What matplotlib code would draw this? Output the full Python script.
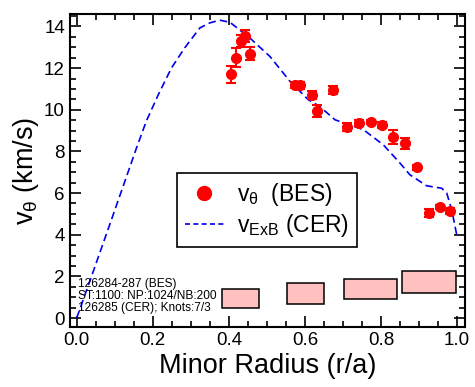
import matplotlib
matplotlib.use('Agg')
import matplotlib.pyplot as plt
from matplotlib.lines import Line2D
from matplotlib.ticker import MultipleLocator
import numpy as np

plt.rcParams['font.family'] = ['Liberation Sans', 'DejaVu Sans']
plt.rcParams['mathtext.default'] = 'regular'

# BES 測量點 (r/a, v_theta, 誤差)
bes_r = [0.407, 0.418, 0.433, 0.442, 0.457, 0.574, 0.587, 0.618, 0.632, 0.673,
         0.711, 0.743, 0.773, 0.803, 0.832, 0.863, 0.894, 0.925, 0.954, 0.982]
bes_v = [11.7, 12.5, 13.3, 13.55, 12.7, 11.2, 11.17, 10.72, 9.95, 10.95,
         9.17, 9.35, 9.42, 9.25, 8.7, 8.38, 7.25, 5.05, 5.35, 5.15]
bes_err = [0.42, 0.45, 0.3, 0.3, 0.3, 0.15, 0.15, 0.2, 0.3, 0.2,
           0.2, 0.15, 0.1, 0.15, 0.35, 0.25, 0.12, 0.2, 0.1, 0.15]

# CER 的 ExB 速度曲線
cer_r = [0.0, 0.039, 0.091, 0.135, 0.157, 0.183, 0.214, 0.249, 0.284, 0.324,
         0.35, 0.376, 0.403, 0.455, 0.508, 0.561, 0.609, 0.639, 0.679, 0.754,
         0.806, 0.85, 0.876, 0.92, 0.96, 0.973, 0.986, 0.995, 1.0]
cer_v = [0.0, 2.0, 4.7, 7.0, 8.15, 9.45, 10.7, 12.0, 12.97, 13.93,
         14.17, 14.3, 14.2, 13.45, 12.56, 11.36, 10.48, 10.16, 9.52, 9.04,
         8.32, 7.44, 6.88, 6.35, 6.23, 6.0, 5.19, 4.39, 3.9]

# 誤差方塊
box_left = [0.383, 0.553, 0.703, 0.854]
box_right = [0.479, 0.65, 0.841, 0.997]
box_low = [0.46, 0.66, 0.90, 1.22]
box_high = [1.38, 1.70, 1.86, 2.26]

notes = ['126284-287 (BES)', 'ST:1100: NP:1024/NB:200', '126285 (CER); Knots:7/3']

fig = plt.figure(figsize=(4.75, 3.87), dpi=100)
ax = fig.add_axes([0.147, 0.155, 0.832, 0.809])

ax.plot(cer_r, cer_v, color='#0000ee', linestyle=(0, (4.5, 2.5)), linewidth=1.2)

ax.errorbar(bes_r, bes_v, yerr=bes_err, fmt='o', color='#ff0000', ms=7,
            elinewidth=1.5, capsize=3.5, capthick=1.5, zorder=3)

bl = np.array(box_left)
br = np.array(box_right)
lo = np.array(box_low)
hi = np.array(box_high)
ax.bar((bl + br) / 2, hi - lo, width=br - bl, bottom=lo, color='#ffc0c0',
       edgecolor='black', linewidth=1.1, zorder=2)

for i, t in enumerate(notes):
    ax.text(0.003, 1.63 - i * 0.575, t, fontsize=8.6, va='center', ha='left')

ax.set_xlim(-0.018, 1.021)
ax.set_ylim(-0.43, 14.6)
ax.xaxis.set_major_locator(MultipleLocator(0.2))
ax.xaxis.set_minor_locator(MultipleLocator(0.05))
ax.yaxis.set_major_locator(MultipleLocator(2))
ax.yaxis.set_minor_locator(MultipleLocator(0.5))
ax.xaxis.set_major_formatter(matplotlib.ticker.FormatStrFormatter('%.1f'))
ax.tick_params(which='both', direction='in', top=True, right=True, labelsize=13.5, width=1.2)
ax.tick_params(which='major', length=8)
ax.tick_params(which='minor', length=4)
for s in ax.spines.values():
    s.set_linewidth(1.5)

ax.set_xlabel('Minor Radius (r/a)', fontsize=19.5, labelpad=3)
ax.set_ylabel(r'v$_θ$ (km/s)', fontsize=19.5, labelpad=2)

handles = [Line2D([], [], marker='o', color='#ff0000', linestyle='none', ms=10),
           Line2D([], [], color='#0000ee', linestyle=(0, (3, 2)), linewidth=1.2)]
leg = ax.legend(handles, [r'v$_θ$  (BES)', r'v$_{ExB}$ (CER)'], loc='upper left',
                bbox_to_anchor=(0.27, 0.491), borderaxespad=0, fontsize=16.5,
                fancybox=False, edgecolor='black', framealpha=1,
                handlelength=1.7, handletextpad=0.6, borderpad=0.35, labelspacing=0.15)
leg.get_frame().set_linewidth(1.2)

fig.savefig('out.png', dpi=100)
